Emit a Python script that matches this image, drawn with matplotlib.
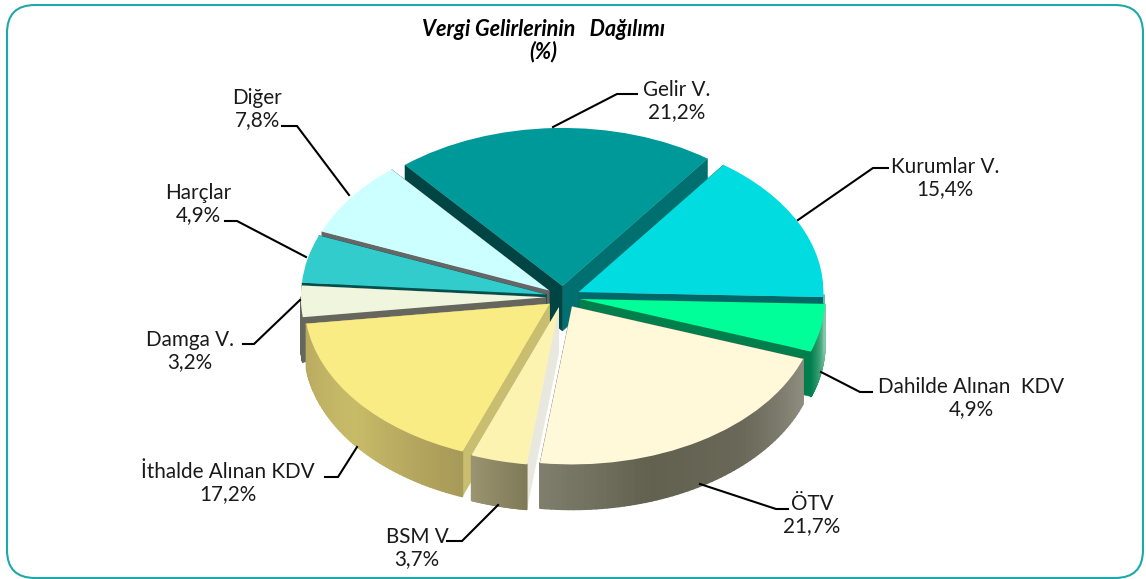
import numpy as np
import matplotlib
matplotlib.use("Agg")
import matplotlib.pyplot as plt
from matplotlib.collections import PolyCollection
from matplotlib.colors import LinearSegmentedColormap
from matplotlib.patches import FancyBboxPatch

# data
categories = ["Gelir V.", "Kurumlar V.", "Dahilde Alınan  KDV", "ÖTV", "BSM V",
              "İthalde Alınan KDV", "Damga V.", "Harçlar", "Diğer"]
shares = [21.2, 15.4, 4.9, 21.7, 3.7, 17.2, 3.2, 4.9, 7.8]

# colours
top_colors = ["#009999", "#00dcdf", "#00ff99", "#fff8d9", "#fcf3b0",
              "#f9ec85", "#eff6dd", "#33cccc", "#ccffff"]
# wall at theta1 / wall at theta2 of each wedge
wall_a = ["#006f6f", "#006868", "#007f4d", "#6e6c5e", "#e9e8de",
          "#c9bd70", "#66665f", "#004f4f", "#666666"]
wall_b = ["#004444", "#006868", "#007f4d", "#6e6c5e", "#e9e8de",
          "#c9bd70", "#66665f", "#004f4f", "#666666"]
# outer rim, going with rising theta
rim_colors = [["#006f6f", "#006f6f"],
              ["#5fb8b8", "#5fb8b8"],
              ["#007f4d", "#80c8a8"],
              ["#7f7d6b", "#62604f", "#6a6858", "#8e8c7e"],
              ["#9a9470", "#7f7a58"],
              ["#b8ab60", "#c8bb68", "#a89a58"],
              ["#66665f", "#66665f"],
              ["#004f4f", "#004f4f"],
              ["#666666", "#666666"]]

W, H = 1146, 579
cx, cy = 563, 297
rx, ry = 245, 158
depth = 45 / ry
explode = 0.07

fig = plt.figure(figsize=(W / 100, H / 100), dpi=100)
plt.rcParams["font.family"] = ["Lato", "DejaVu Sans"]

ax = fig.add_axes([0, 0, 1, 1])
wedges, _ = ax.pie(shares, explode=[explode] * len(shares), colors=top_colors,
                   startangle=130, counterclock=False, radius=1, frame=True)
ax.set_aspect("auto")
ax.set_xlim(-cx / rx, (W - cx) / rx)
ax.set_ylim((cy - H) / ry, cy / ry)
ax.axis("off")

# back to front
mids = [np.radians((w.theta1 + w.theta2) / 2) for w in wedges]
order = np.argsort([-np.sin(m) for m in mids])

for rank, i in enumerate(order):
    w = wedges[i]
    x0, y0 = w.center
    z = 10 + rank * 3
    for ang, col in ((w.theta1, wall_a[i]), (w.theta2, wall_b[i])):
        a = np.radians(ang)
        ex, ey = x0 + w.r * np.cos(a), y0 + w.r * np.sin(a)
        ax.fill([x0, ex, ex, x0], [y0, ey, ey - depth, y0 - depth],
                color=col, lw=0.3, zorder=z)
    # rim, lower half only
    t1, t2 = w.theta1 % 360, w.theta2 % 360
    if t2 <= t1:
        t2 += 360
    th = np.linspace(t1, t2, 60)
    th = th[(np.sin(np.radians(th)) <= 0)]
    if len(th) > 1:
        cmap = LinearSegmentedColormap.from_list("rim", rim_colors[i])
        a = np.radians(th)
        xs, ys = x0 + w.r * np.cos(a), y0 + w.r * np.sin(a)
        quads = [[(xs[k], ys[k]), (xs[k + 1], ys[k + 1]),
                  (xs[k + 1], ys[k + 1] - depth), (xs[k], ys[k] - depth)]
                 for k in range(len(th) - 1)]
        cols = cmap(np.linspace(0, 1, len(quads)))
        ax.add_collection(PolyCollection(quads, facecolors=cols, edgecolors=cols,
                                         linewidths=1.2, zorder=z + 1))
    w.set_zorder(z + 2)
    w.set_linewidth(0)

# overlay in pixels for frame, leaders and text
ov = fig.add_axes([0, 0, 1, 1], zorder=50)
ov.set_xlim(0, W)
ov.set_ylim(H, 0)
ov.axis("off")
ov.patch.set_alpha(0)

ov.add_patch(FancyBboxPatch((7, 5), 1136, 573, boxstyle="round,pad=0,rounding_size=28",
                            fc="none", ec="#1fa8a8", lw=1.5))

leaders = [[(553, 127), (617, 94), (637, 94)],
           [(798, 220), (873, 168), (888, 168)],
           [(821, 372), (860, 392), (872, 392)],
           [(700, 484), (776, 509), (788, 509)],
           [(498, 505), (462, 541), (447, 541)],
           [(357, 447), (338, 477), (325, 477)],
           [(300, 300), (254, 344), (243, 344)],
           [(306, 257), (237, 221), (225, 221)],
           [(349, 195), (297, 126), (282, 126)]]
label_xy = [(677, 101), (945, 178), (971, 398), (812, 515), (417, 548),
            (228, 483), (190, 351), (198, 204), (257, 109)]

for name, v, pts, (tx, ty) in zip(categories, shares, leaders, label_xy):
    ov.plot(*zip(*pts), color="black", lw=1.5, solid_joinstyle="miter")
    ov.text(tx, ty, name + "\n" + str(v).replace(".", ",") + "%", ha="center", va="center",
            fontsize=14.9, color="#1a1a1a", linespacing=1.17)

ov.text(543, 29, "Vergi Gelirlerinin   Dağılımı", ha="center", va="center",
        fontsize=15.6, fontweight="bold", fontstyle="italic", color="black")
ov.text(543, 52, "(%)", ha="center", va="center",
        fontsize=15.6, fontweight="bold", fontstyle="italic", color="black")

fig.savefig("out.png", dpi=100)
